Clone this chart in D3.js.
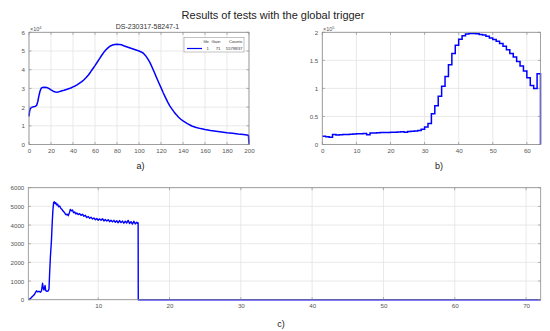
<!DOCTYPE html>
<html><head><meta charset="utf-8">
<script src="https://cdn.jsdelivr.net/npm/d3@7"></script>
<style>body{margin:0;background:#fff}svg{display:block;font-family:"Liberation Sans",Arial,sans-serif}</style>
</head><body>
<script>
// ---- data ----
const mainTitle = "Results of tests with the global trigger";
const aTitle = "DS-230317-58247-1";
const aX = [0,0.5,1,2,3,4,5,6,7,8,9,10,11,12,14,16,18,20,22,24,26,28,30,32,34,36,38,40,42,44,46,48,50,52,54,56,58,60,62,64,66,68,70,72,74,76,78,80,82,84,86,88,90,92,94,96,98,100,102,104,106,108,110,112,114,116,118,120,122,124,126,128,130,132,134,136,138,140,144,148,152,156,160,165,170,175,180,185,190,195,199.5,200];
const aY = [15000,17500,19000,19700,20000,20200,20300,20500,21000,23000,26000,28500,30000,30500,30600,30500,30000,29200,28500,28100,28000,28300,28700,29000,29400,29800,30200,30800,31300,32000,32800,33600,34600,35800,37200,38800,40500,42200,44000,45800,47600,49300,50700,51800,52700,53200,53500,53600,53500,53400,52800,52400,52000,51600,51200,50800,50400,50000,49500,48800,47500,45800,43800,41200,38500,35700,33000,30400,27700,25200,22800,20700,18900,17300,15900,14600,13500,12600,11200,9900,9100,8500,8000,7500,7100,6700,6300,6000,5600,5300,5000,0];
const aXTicks = [0,20,40,60,80,100,120,140,160,180,200];
const aYTicks = [0,10000,20000,30000,40000,50000,60000];
const legendHeader = ["file","Gain","Counts"];
const legendRow = ["1","71","5578837"];

const bCounts = [14500,14000,13000,18000,17000,17500,17800,18000,18300,18600,19000,19300,19600,17500,20500,20700,21000,21200,21400,21600,21800,22000,22400,22600,22000,23200,23600,24000,25000,27000,31000,37500,55000,69000,86000,104000,121000,142000,162000,177000,187500,194000,197000,198000,198000,197500,196000,195000,193000,190000,187000,184000,180000,175000,169000,162000,156000,148000,140000,131000,119000,105000,100000,126000];
const bXTicks = [0,10,20,30,40,50,60];
const bYTicks = [0,50000,100000,150000,200000];

const cX = [0.2,0.5,0.8,1.0,1.2,1.35,1.5,1.7,1.9,2.05,2.2,2.3,2.4,2.55,2.65,2.8,3.0,3.1,3.2,3.3,3.45,3.55,3.65,3.75,3.85,3.95,4.05,4.15,4.3,4.45,4.6,4.75,4.9,5.05,5.2,5.35,5.5,5.65,5.8,5.95,6.1,6.25,6.4,6.55,6.7,6.85,7.0,7.2,7.4,7.6,7.8,8.0,8.2,8.4,8.6,8.8,9.0,9.2,9.4,9.6,9.8,10.0,10.2,10.4,10.6,10.8,11.0,11.2,11.4,11.6,11.8,12.0,12.2,12.4,12.6,12.8,13.0,13.2,13.4,13.6,13.8,14.0,14.2,14.4,14.6,14.8,15.0,15.2,15.4,15.55,15.6,15.62,72.05];
const cY = [0,60,180,250,380,480,420,450,400,470,880,600,520,760,480,450,480,560,1500,2300,3200,4100,4800,5200,5250,5150,5200,5080,5120,4980,5020,4900,4850,4760,4700,4620,4550,4580,4500,4650,4840,4760,4800,4660,4700,4600,4640,4560,4610,4520,4580,4470,4520,4400,4460,4360,4420,4320,4380,4280,4350,4260,4330,4250,4340,4220,4300,4210,4290,4180,4260,4170,4250,4150,4230,4120,4240,4130,4210,4100,4200,4110,4250,4080,4180,4050,4200,4060,4150,4080,4120,0,0];
const cXTicks = [10,20,30,40,50,60,70];
const cYTicks = [0,1000,2000,3000,4000,5000,6000];

// ---- drawing ----
const W = 550, H = 331;
const svg = d3.select("body").append("svg").attr("width", W).attr("height", H);
svg.append("rect").attr("width", W).attr("height", H).attr("fill", "#fff");

const AX = "#8c8c8c", GRID = "#e3e3e3", TXT = "#555", BLUE = "#0000ff";

function panel(x, y, xt, yt, yfmt) {
  const [x0, x1] = x.range(), [y0, y1] = y.range();
  const g = svg.append("g");
  g.selectAll(".gx").data(xt).join("line")
    .attr("x1", d => x(d)).attr("x2", d => x(d)).attr("y1", y0).attr("y2", y1)
    .attr("stroke", GRID).attr("stroke-width", 0.8);
  g.selectAll(".gy").data(yt).join("line")
    .attr("y1", d => y(d)).attr("y2", d => y(d)).attr("x1", x0).attr("x2", x1)
    .attr("stroke", GRID).attr("stroke-width", 0.8);
  const ax = d3.axisBottom(x).tickValues(xt).tickSize(0).tickPadding(4).tickFormat(d3.format("d"));
  const gb = g.append("g").attr("transform", `translate(0,${y0})`).call(ax);
  const ay = d3.axisLeft(y).tickValues(yt).tickSize(0).tickPadding(4).tickFormat(yfmt);
  const gl = g.append("g").attr("transform", `translate(${x0},0)`).call(ay);
  [gb, gl].forEach(s => {
    s.select(".domain").remove();
    s.selectAll("text").attr("fill", TXT).attr("font-size", 6.2).attr("font-family", "Liberation Sans, Arial, sans-serif");
  });
  return g;
}

function frame(g, x, y, xt, yt) {
  const [x0, x1] = x.range(), [y0, y1] = y.range();
  const L = 2.5;
  xt.forEach(d => {
    g.append("line").attr("x1", x(d)).attr("x2", x(d)).attr("y1", y0).attr("y2", y0 - L).attr("stroke", AX).attr("stroke-width", 0.7);
    g.append("line").attr("x1", x(d)).attr("x2", x(d)).attr("y1", y1).attr("y2", y1 + L).attr("stroke", AX).attr("stroke-width", 0.7);
  });
  yt.forEach(d => {
    g.append("line").attr("y1", y(d)).attr("y2", y(d)).attr("x1", x0).attr("x2", x0 + L).attr("stroke", AX).attr("stroke-width", 0.7);
    g.append("line").attr("y1", y(d)).attr("y2", y(d)).attr("x1", x1).attr("x2", x1 - L).attr("stroke", AX).attr("stroke-width", 0.7);
  });
  g.append("rect").attr("x", x0).attr("y", y1).attr("width", x1 - x0).attr("height", y0 - y1)
    .attr("fill", "none").attr("stroke", AX).attr("stroke-width", 0.8);
}

svg.append("text").attr("x", 273).attr("y", 18.5).attr("text-anchor", "middle")
  .attr("font-size", 11).attr("fill", "#222").text(mainTitle);

// ---- panel a ----
const xa = d3.scaleLinear().domain([0, 200]).range([29, 249]);
const ya = d3.scaleLinear().domain([0, 60000]).range([144.5, 32.3]);
const ga = panel(xa, ya, aXTicks, aYTicks, d => d / 10000);
const aData = aX.map((v, i) => [v, aY[i]]);
ga.append("path").datum(aData).attr("fill", "none").attr("stroke", BLUE).attr("stroke-width", 1.5)
  .attr("stroke-linejoin", "round")
  .attr("d", d3.line().x(d => xa(d[0])).y(d => ya(d[1])));
frame(ga, xa, ya, aXTicks, aYTicks);
ga.append("text").attr("x", 30).attr("y", 30.5).attr("font-size", 5.5).attr("fill", TXT)
  .html('×10<tspan dy="-2" font-size="4">4</tspan>');
ga.append("text").attr("x", 147.5).attr("y", 28.5).attr("text-anchor", "middle").attr("font-size", 7).attr("fill", "#333").text(aTitle);
const lg = ga.append("g");
lg.append("rect").attr("x", 184).attr("y", 37.3).attr("width", 60).attr("height", 14.7).attr("fill", "#fff").attr("stroke", "#999").attr("stroke-width", 0.6);
const colX = [209, 220.5, 242.5];
legendHeader.forEach((t, i) => lg.append("text").attr("x", colX[i]).attr("y", 43.3).attr("text-anchor", "end").attr("font-size", 4.3).attr("fill", "#333").text(t));
legendRow.forEach((t, i) => lg.append("text").attr("x", colX[i]).attr("y", 50).attr("text-anchor", "end").attr("font-size", 4.3).attr("fill", "#333").text(t));
lg.append("line").attr("x1", 187).attr("x2", 202).attr("y1", 48.5).attr("y2", 48.5).attr("stroke", BLUE).attr("stroke-width", 1.2);
svg.append("text").attr("x", 140.5).attr("y", 169).attr("text-anchor", "middle").attr("font-size", 9).attr("fill", "#222").text("a)");

// ---- panel b ----
const xb = d3.scaleLinear().domain([0, 64]).range([322.3, 540.5]);
const yb = d3.scaleLinear().domain([0, 200000]).range([144.5, 32.3]);
const gbp = panel(xb, yb, bXTicks, bYTicks, d => d / 100000);
const bData = bCounts.map((v, i) => [i, v]);
bData.push([64, bCounts[bCounts.length - 1]]);
bData.push([64, 0]);
gbp.append("path").datum(bData).attr("fill", "none").attr("stroke", BLUE).attr("stroke-width", 1.5)
  .attr("d", d3.line().curve(d3.curveStepAfter).x(d => xb(d[0])).y(d => yb(d[1])));
frame(gbp, xb, yb, bXTicks, bYTicks);
gbp.append("text").attr("x", 323).attr("y", 30.5).attr("font-size", 5.5).attr("fill", TXT)
  .html('×10<tspan dy="-2" font-size="4">5</tspan>');
svg.append("text").attr("x", 439).attr("y", 169).attr("text-anchor", "middle").attr("font-size", 9).attr("fill", "#222").text("b)");

// ---- panel c ----
const xc = d3.scaleLinear().domain([0.2, 72.05]).range([28.3, 540.7]);
const yc = d3.scaleLinear().domain([0, 6000]).range([299.7, 187.7]);
const gc = panel(xc, yc, cXTicks, cYTicks, d3.format("d"));
const cData = cX.map((v, i) => [v, cY[i]]);
gc.append("path").datum(cData).attr("fill", "none").attr("stroke", BLUE).attr("stroke-width", 1.4)
  .attr("stroke-linejoin", "round")
  .attr("d", d3.line().x(d => xc(d[0])).y(d => yc(d[1])));
frame(gc, xc, yc, cXTicks, cYTicks);
svg.append("text").attr("x", 281).attr("y", 327).attr("text-anchor", "middle").attr("font-size", 9).attr("fill", "#222").text("c)");
</script>
</body></html>
